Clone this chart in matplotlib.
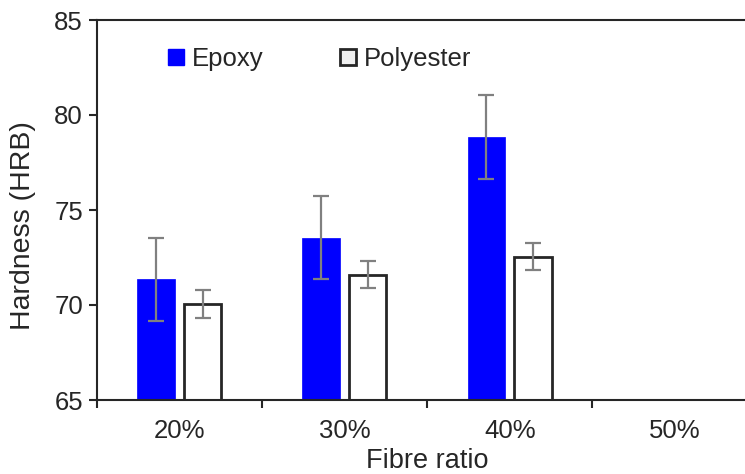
import matplotlib
matplotlib.use("Agg")
import matplotlib.pyplot as plt
import numpy as np
from matplotlib.patches import Patch

categories = ["20%", "30%", "40%", "50%"]
epoxy = [71.35, 73.55, 78.85]
epoxy_err = [2.2, 2.2, 2.2]
polyester = [70.05, 71.6, 72.55]
polyester_err = [0.72, 0.72, 0.72]
yticks = [65, 70, 75, 80, 85]

plt.rcParams['font.family'] = ['Liberation Sans', 'DejaVu Sans']
fs = 18.5
dark = '#262626'

fig = plt.figure(figsize=(7.45, 4.74), dpi=100)
ax = fig.add_axes([97/745, 74/474, (757.5-97)/745, 380/474])

x = np.arange(len(epoxy))
w = 0.225
ax.bar(x - 0.143, epoxy, w, color='#0000ff', edgecolor='#0000ff', linewidth=0.5, zorder=2)
ax.bar(x + 0.14, polyester, w, color='white', edgecolor=dark, linewidth=2, zorder=2)
ax.errorbar(x - 0.143, epoxy, yerr=epoxy_err, fmt='none', ecolor='#808080',
            elinewidth=1.6, capsize=6, capthick=1.6, zorder=3)
ax.errorbar(x + 0.14, polyester, yerr=polyester_err, fmt='none', ecolor='#808080',
            elinewidth=1.6, capsize=6, capthick=1.6, zorder=3)

ax.set_xlim(-0.5, 3.5)
ax.set_ylim(65, 85)
ax.set_yticks(yticks)
ax.set_xticks(range(len(categories)))
ax.set_xticklabels(categories)
ax.set_xticks(np.arange(-0.5, 3.6, 1.0), minor=True)
ax.tick_params(axis='x', which='major', length=0, pad=14, labelsize=fs, colors=dark)
ax.tick_params(axis='x', which='minor', length=6, width=1.5, color=dark, direction='out')
ax.tick_params(axis='y', length=6, width=1.5, color=dark, labelsize=fs, labelcolor=dark, pad=4)

for s in ax.spines.values():
    s.set_color(dark)
    s.set_linewidth(1.5)

ax.set_xlabel("Fibre ratio", fontsize=19.5, color=dark, labelpad=3)
ax.set_ylabel("Hardness (HRB)", fontsize=20.5, color=dark)
ax.yaxis.set_label_coords(-0.093, 0.46)

handles = [Patch(facecolor='#0000ff', edgecolor='#0000ff'),
           Patch(facecolor='#f0f0f0', edgecolor=dark, linewidth=2)]
ax.legend(handles, ["Epoxy", "Polyester"], ncol=2, frameon=False, fontsize=fs,
          loc='center', bbox_to_anchor=(0.337, 0.897), handlelength=0.6, handleheight=0.6,
          handletextpad=0.3, columnspacing=3.0, labelcolor=dark)

fig.savefig("out.png", dpi=100)
